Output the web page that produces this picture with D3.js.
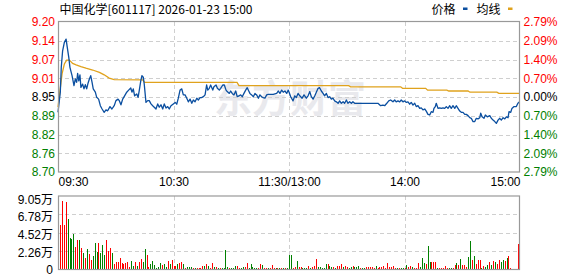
<!DOCTYPE html>
<html><head><meta charset="utf-8">
<script src="https://cdn.jsdelivr.net/npm/d3@7"></script>
<style>body{margin:0;background:#fff}svg{display:block}</style>
</head><body><svg id="c" width="578" height="276"></svg>
<script>
// ---------------- data ----------------
const title = "中国化学[601117] 2026-01-23 15:00";
const legendNames = ["价格", "均线"];
const watermark = "东方财富";
const prevClose = 8.95;
const priceTicks = [9.20, 9.1375, 9.075, 9.0125, 8.95, 8.8875, 8.825, 8.7625, 8.70];
const priceTickLabels = ["9.20","9.14","9.07","9.01","8.95","8.89","8.82","8.76","8.70"];
const pctTickLabels = ["2.79%","2.09%","1.40%","0.70%","0.00%","0.70%","1.40%","2.09%","2.79%"];
const timeTicks = [0, 60, 120, 180, 240];
const timeLabels = ["09:30","10:30","11:30/13:00","14:00","15:00"];
const volTicks = [9.05, 6.7875, 4.525, 2.2625, 0];
const volTickLabels = ["9.05万","6.78万","4.52万","2.26万","0"];

// price line: [minute since 09:30 (trading minutes), price]
const priceAM = [[0,8.899],[1.2,8.966],[1.7,9.049],[2.4,9.104],[3.3,9.132],[4.2,9.143],[4.8,9.116],[5.6,9.082],[6.2,9.049],[7.3,9.021],
[8.3,8.988],[9.0,9.010],[9.7,8.999],[10.2,9.029],[10.8,9.004],[11.4,9.024],[11.9,8.982],[12.8,8.993],[13.5,8.977],[14.2,8.991],
[14.9,8.977],[15.6,8.996],[16.3,9.010],[17.0,9.021],[17.7,8.999],[18.3,8.977],[19.4,8.966],[20.1,8.949],[21.1,8.943],[22.0,8.921],
[22.9,8.910],[24.0,8.899],[24.9,8.907],[25.8,8.904],[27.0,8.918],[28.0,8.910],[29.2,8.921],[30.1,8.938],[31.2,8.943],[31.8,8.938],
[32.7,8.924],[33.6,8.943],[34.6,8.954],[35.7,8.966],[36.7,8.973],[37.8,8.980],[38.4,8.966],[39.1,8.977],[39.8,8.954],[40.9,8.960],
[41.6,8.949],[42.2,8.971],[43.0,9.004],[43.6,9.021],[44.3,9.016],[44.8,8.993],[45.7,8.932],[46.6,8.938],[47.4,8.938],[48.3,8.927],
[49.2,8.921],[50.0,8.916],[50.9,8.910],[51.8,8.927],[52.6,8.916],[53.5,8.924],[54.4,8.910],[55.2,8.927],[56.1,8.913],[57.0,8.918],
[57.8,8.910],[58.7,8.921],[59.9,8.927],[60.9,8.932],
[61.7,8.926],[62.5,8.946],[63.4,8.973],[64.3,8.977],[65.1,8.957],[66.0,8.957],[66.9,8.946],[67.7,8.934],[68.6,8.943],[69.5,8.929],
[70.3,8.940],[71.2,8.934],[72.1,8.946],[72.9,8.940],[73.8,8.948],[74.6,8.948],[75.5,8.951],[76.4,8.957],[77.2,8.990],[77.8,8.973],
[78.6,8.979],[79.3,8.990],[80.4,8.973],[81.0,8.984],[82.1,8.990],[82.8,8.979],[83.8,8.973],[84.5,8.979],[85.6,8.990],[86.4,8.990],
[87.3,8.973],[87.9,8.968],[89.0,8.962],[89.7,8.970],[90.5,8.962],[91.4,8.957],[92.3,8.970],[93.1,8.951],[94.0,8.954],[94.9,8.957],
[95.7,8.951],[96.6,8.962],[97.5,8.973],[98.3,8.981],[99.1,8.970],[99.7,8.962],[100.6,8.957],[101.5,8.951],[102.3,8.962],[103.2,8.957],
[104.1,8.946],[104.9,8.957],[105.8,8.951],[106.6,8.948],[107.5,8.946],[108.4,8.957],[109.2,8.959],[111.8,8.959],[113.6,8.962],[114.4,8.970],
[115.3,8.962],[116.2,8.973],[117.0,8.966],[117.9,8.970],[118.8,8.962],[119.6,8.973]];
const pricePM = [[120.9,8.951],[122.1,8.937],[123.0,8.954],[123.8,8.948],[124.7,8.962],[125.6,8.954],[126.8,8.946],[127.8,8.957],[129.0,8.946],[129.9,8.954],
[130.8,8.968],[131.6,8.951],[132.5,8.943],[133.4,8.954],[134.2,8.966],[135.1,8.979],[135.9,8.981],[136.8,8.970],[137.7,8.962],[138.5,8.954],
[139.4,8.962],[140.3,8.948],[141.1,8.951],[142.0,8.943],[142.9,8.946],[143.7,8.937],[144.6,8.934],[145.5,8.929],[146.3,8.937],[147.2,8.929],
[148.1,8.934],[148.9,8.929],[149.8,8.940],[150.6,8.929],[151.5,8.934],[152.4,8.929],[153.2,8.934],[154.1,8.929],[166.2,8.929],[167.6,8.921],
[168.8,8.923],[169.7,8.921],[170.8,8.929],[171.8,8.937],[172.8,8.940],[174.0,8.934],[174.9,8.940],[175.7,8.934],[176.6,8.937],[177.5,8.934],
[178.3,8.940],[179.2,8.934],[180.1,8.937],[180.9,8.932],[181.8,8.934],[182.7,8.926],[183.5,8.932],[184.4,8.923],[185.3,8.929],[186.1,8.918],
[187.0,8.921],[187.9,8.912],[188.7,8.914],[189.6,8.907],[190.5,8.910],[191.3,8.903],[192.2,8.892],[193.1,8.890],[193.9,8.901],[194.8,8.899],
[195.3,8.912],[196.0,8.918],[196.5,8.929],[197.4,8.912],[198.3,8.914],[199.1,8.912],[200.0,8.914],[200.9,8.912],[201.7,8.918],[202.6,8.912],
[203.5,8.921],[204.3,8.912],[205.2,8.921],[206.1,8.912],[206.9,8.921],[207.8,8.912],[208.7,8.903],[209.5,8.899],[210.4,8.899],[211.3,8.892],
[212.1,8.892],[213.0,8.888],[213.9,8.881],[214.7,8.879],[215.6,8.868],[216.5,8.868],[217.3,8.879],[218.2,8.877],[219.1,8.881],[219.6,8.896],
[220.3,8.884],[221.3,8.879],[222.0,8.890],[223.0,8.884],[224.3,8.888],[225.1,8.879],[226.0,8.873],[226.9,8.868],[227.7,8.862],[228.6,8.873],
[229.5,8.879],[230.3,8.873],[231.2,8.881],[232.1,8.877],[232.9,8.884],[233.8,8.881],[234.3,8.901],[235.2,8.899],[235.8,8.912],[236.9,8.918],
[238.1,8.918],[238.9,8.929],[239.8,8.934]];

// average price line: [minute, price]
const avgLine = [[0,8.916],[2.1,9.027],[3.3,9.060],[4.5,9.073],[5.9,9.073],[7.6,9.062],[9.4,9.057],[11.9,9.051],[14.5,9.046],[18,9.040],
[21.5,9.032],[24,9.024],[26.6,9.013],[29.2,9.008],[44,9.007],[45,8.999],[93,8.999],[94,8.988],[151,8.988],[152,8.984],
[178,8.984],[179,8.979],[191,8.979],[192,8.973],[202,8.973],[203,8.970],[213,8.970],[214,8.966],[228,8.966],[229,8.962],[240,8.962]];

// per-minute volume (万手), minute index starts at 09:31
const volumes = [
5.5,8.4,5.4,8.25,6.15,3.8,3.7,4.4,2.7,3.55,
3.55,2.6,2.0,1.35,2.45,1.85,1.1,1.6,3.2,2.1,
3.2,2.0,2.95,1.7,3.55,2.2,2.6,2.0,0.6,0.85,
0.85,1.35,0.75,0.6,0.75,0.85,0.25,0.95,0.35,0.85,
0.35,0.85,1.2,0.85,2.45,1.7,0.25,0.6,0.95,0.5,
0.1,0.25,0.75,0.5,0.6,0.25,0.95,0.6,1.1,0.35,
0.35,0.6,0.75,0.85,0.6,0.1,0.25,0.25,0.25,0.1,
0.1,0.1,0.1,0.1,0.35,0.4,0.65,0.4,0.1,0.75,
0.25,0.25,0.1,0.1,0.1,0.15,2.35,0.25,0.1,0.1,
0.1,0.35,0.35,0.1,0.1,0.25,0.25,0.75,0.1,0.6,
0.25,0.1,0.1,0.1,0.6,0.5,0.1,0.1,0.1,0.1,
0.5,0.1,0.1,0.1,0.1,0.1,0.1,0.1,0.1,1.7,
1.7,0.1,0.25,1.0,0.25,0.25,0.1,0.1,0.1,0.35,
0.1,0.25,0.35,1.2,0.25,0.25,0.1,0.1,0.6,0.6,
0.35,0.25,0.25,0.1,0.35,0.35,0.6,0.25,0.35,0.25,
0.1,0.25,0.35,0.25,0.25,0.35,0.1,0.1,0.1,0.25,
0.25,0.25,0.25,0.1,0.35,0.1,0.25,0.25,0.35,0.1,
0.75,0.25,0.25,0.35,0.1,0.1,0.1,0.1,0.1,0.1,
0.5,0.25,0.35,0.25,0.1,0.1,0.75,0.25,1.35,0.75,
0.6,2.85,0.85,0.85,0.85,0.85,0.1,0.1,0.1,0.1,
0.35,0.1,0.1,0.1,0.1,0.5,0.75,0.5,1.2,0.5,
0.5,0.25,1.5,3.45,1.1,1.6,0.6,1.1,1.1,0.1,
0.35,0.25,0.5,0.85,0.5,1.0,0.85,0.6,1.1,0.85,
1.1,1.0,1.35,1.6,0.1,0.03,0.03,0.03,3.1];
// 1 = price up (red), 0 = price down (green)
const volUp = [
1,1,1,1,0,0,0,0,1,1,
0,1,0,1,0,1,1,0,0,0,
1,0,0,0,1,1,1,0,1,1,
1,1,1,1,1,1,1,0,0,1,
0,1,1,0,0,1,1,0,0,0,
0,0,0,1,0,0,1,0,1,1,
1,0,1,1,0,1,0,0,0,1,
0,1,1,1,1,0,1,0,1,1,
0,1,0,1,0,0,0,0,1,0,
0,0,1,1,0,0,1,1,0,0,
0,0,0,1,1,0,1,1,0,1,
1,1,0,1,0,1,0,1,0,0,
0,1,1,0,1,1,0,0,0,1,
0,1,1,1,0,0,0,0,0,1,
0,0,1,0,1,1,1,0,1,1,
0,0,1,0,0,0,1,0,0,1,
1,1,1,1,0,1,1,1,1,1,
1,1,1,1,1,0,1,0,0,1,
0,1,1,0,1,1,1,0,0,0,
1,0,0,1,1,1,0,1,1,1,
1,1,0,0,1,1,0,1,0,1,
1,1,0,0,1,0,1,1,1,0,
1,0,0,1,0,1,0,1,1,0,
0,1,0,1,1,1,1,1,1];

// ---------------- drawing ----------------
const RED = "#ff0000", GREEN = "#008000", DARK = "#000000";
const svg = d3.select("#c");
const numFont = "'Liberation Sans', Arial, 'Noto Sans CJK SC', sans-serif";
const cjkFont = "'Noto Sans CJK SC', sans-serif";

const x = d3.scaleLinear().domain([0, 240]).range([58, 520]);
const y = d3.scaleLinear().domain([8.70, 9.20]).range([172, 22]);
const yv = d3.scaleLinear().domain([0, 9.05]).range([269, 196]);

svg.append("rect").attr("width", 578).attr("height", 276).attr("fill", "#fff");

// watermark
svg.append("text").attr("x", 214).attr("y", 112)
  .attr("font-family", cjkFont).attr("font-size", 38).attr("font-weight", 700)
  .attr("fill", "#e9e9ed").text(watermark);

// grids
const gridStyle = g => g.attr("stroke", "#cfcfcf").attr("stroke-width", 1).attr("stroke-dasharray", "4,3");
const grid = svg.append("g").call(gridStyle);
priceTicks.slice(1, -1).forEach(v => {
  grid.append("line").attr("x1", 58).attr("x2", 520)
    .attr("y1", Math.round(y(v)) + 0.5).attr("y2", Math.round(y(v)) + 0.5);
});
timeTicks.slice(1, -1).forEach(t => {
  const xx = Math.round(x(t)) + 0.5;
  grid.append("line").attr("x1", xx).attr("x2", xx).attr("y1", 22).attr("y2", 172);
  grid.append("line").attr("x1", xx).attr("x2", xx).attr("y1", 196).attr("y2", 270);
});
volTicks.slice(1, -1).forEach(v => {
  grid.append("line").attr("x1", 58).attr("x2", 520)
    .attr("y1", Math.round(yv(v)) + 0.5).attr("y2", Math.round(yv(v)) + 0.5);
});

// volume bars
svg.append("g").attr("shape-rendering", "crispEdges")
  .selectAll("rect").data(volumes).join("rect")
  .attr("x", (d, i) => Math.round(x(i + 1)) - 0.5)
  .attr("width", 1.1)
  .attr("y", d => yv(d))
  .attr("height", d => Math.max(0.6, yv(0) - yv(d)))
  .attr("fill", (d, i) => volUp[i] ? RED : GREEN);

// lines
const line = d3.line().x(d => x(d[0])).y(d => y(d[1]));
svg.append("path").datum(avgLine).attr("d", line)
  .attr("fill", "none").attr("stroke", "#e0a21c").attr("stroke-width", 1.3);
svg.append("path").datum(priceAM.concat(pricePM)).attr("d", line)
  .attr("fill", "none").attr("stroke", "#0b4fa0").attr("stroke-width", 1.3)
  .attr("stroke-linejoin", "round");

// frames
svg.append("rect").attr("x", 58.5).attr("y", 21.5).attr("width", 461).attr("height", 150.5)
  .attr("fill", "none").attr("stroke", "#999").attr("stroke-width", 1.2);
svg.append("rect").attr("x", 58.5).attr("y", 196).attr("width", 461).attr("height", 73.5)
  .attr("fill", "none").attr("stroke", "#999").attr("stroke-width", 1.2);

const colorFor = v => v > prevClose + 1e-9 ? RED : (v < prevClose - 1e-9 ? GREEN : DARK);

// left price axis
const gl = svg.append("g").attr("transform", "translate(58,0)")
  .call(d3.axisLeft(y).tickValues(priceTicks).tickFormat((d, i) => priceTickLabels[i]).tickSize(0).tickPadding(3));
gl.select(".domain").remove();
gl.selectAll("text").attr("font-family", numFont).attr("font-size", 12)
  .attr("fill", d => colorFor(d));

// right pct axis
const gr = svg.append("g").attr("transform", "translate(520,0)")
  .call(d3.axisRight(y).tickValues(priceTicks).tickFormat((d, i) => pctTickLabels[i]).tickSize(0).tickPadding(3.5));
gr.select(".domain").remove();
gr.selectAll("text").attr("font-family", numFont).attr("font-size", 12)
  .attr("fill", d => colorFor(d));

// time axis
const gb = svg.append("g").attr("transform", "translate(0,172)")
  .call(d3.axisBottom(x).tickValues(timeTicks).tickFormat((d, i) => timeLabels[i]).tickSize(0).tickPadding(5.5));
gb.select(".domain").remove();
gb.selectAll("text").attr("font-family", numFont).attr("font-size", 12).attr("fill", DARK)
  .attr("text-anchor", (d, i) => i === 0 ? "start" : (i === timeTicks.length - 1 ? "end" : "middle"));

// volume axis
const gv = svg.append("g").attr("transform", "translate(58,0)")
  .call(d3.axisLeft(yv).tickValues(volTicks).tickFormat((d, i) => volTickLabels[i]).tickSize(0).tickPadding(5));
gv.select(".domain").remove();
gv.selectAll("text").attr("font-family", numFont).attr("font-size", 12).attr("fill", DARK)
  .attr("transform", (d, i) => `translate(0,${i === 0 ? 3.3 : (i === volTicks.length - 1 ? 0.5 : 2)})`);

// title
svg.append("text").attr("x", 59.5).attr("y", 13.5)
  .attr("font-family", cjkFont).attr("font-size", 12).attr("fill", DARK).text(title);

// legend
const legend = [
  {name: legendNames[0], tx: 431.5, mx: 463, color: "#0b4fa0"},
  {name: legendNames[1], tx: 476.5, mx: 508, color: "#e0a21c"}
];
legend.forEach(l => {
  svg.append("text").attr("x", l.tx).attr("y", 13.5).attr("font-family", cjkFont)
    .attr("font-size", 12).attr("fill", DARK).text(l.name);
  svg.append("rect").attr("x", l.mx).attr("y", 7.5).attr("width", 4.5).attr("height", 2.5).attr("fill", l.color);
});
</script>
</body></html>
